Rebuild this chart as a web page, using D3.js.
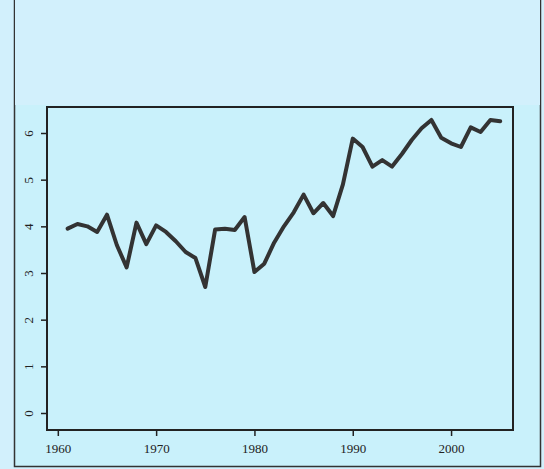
<!DOCTYPE html>
<html>
<head>
<meta charset="UTF-8">
<script src="https://cdn.jsdelivr.net/npm/d3@7"></script>
<style>
  body { margin: 0; background: #fff; }
  .axis text { font-family: "Liberation Serif", serif; font-size: 13px; fill: #222; }
</style>
</head>
<body>
<svg id="chart" width="544" height="469"></svg>
<script>
// values
const years = d3.range(1961, 2006);
const values = [3.95, 4.05, 4.0, 3.88, 4.25, 3.6, 3.12, 4.08, 3.62, 4.02,
  3.88, 3.68, 3.45, 3.32, 2.7, 3.93, 3.95, 3.92, 4.2, 3.02,
  3.2, 3.65, 4.0, 4.3, 4.68, 4.28, 4.5, 4.22, 4.9, 5.88,
  5.7, 5.28, 5.42, 5.28, 5.55, 5.85, 6.1, 6.28, 5.9, 5.78,
  5.7, 6.12, 6.02, 6.28, 6.25];
const xTicks = [1960, 1970, 1980, 1990, 2000];
const yTicks = [0, 1, 2, 3, 4, 5, 6];

const svg = d3.select("#chart");

// outer panel
svg.append("rect").attr("x", 0).attr("y", 0).attr("width", 544).attr("height", 469).attr("fill", "#d2f0fc");
svg.append("rect").attr("x", 14.5).attr("y", -2).attr("width", 526).attr("height", 468.5)
  .attr("fill", "#c9f1fb").attr("stroke", "#333").attr("stroke-width", 1.5);
svg.append("rect").attr("x", 15).attr("y", 0).attr("width", 525).attr("height", 105).attr("fill", "#d2f0fc");

const x = d3.scaleLinear().domain([1958.9, 2006.3]).range([47, 513]);
const y = d3.scaleLinear().domain([0, 6]).range([413, 133]);

svg.append("rect").attr("x", 47).attr("y", 107).attr("width", 466).attr("height", 323)
  .attr("fill", "#c9f1fb").attr("stroke", "#222").attr("stroke-width", 2);

svg.append("g").attr("class", "axis").attr("transform", "translate(0,430)")
  .call(d3.axisBottom(x).tickValues(xTicks).tickFormat(d3.format("d")).tickSize(6).tickSizeOuter(0))
  .call(g => g.select(".domain").remove())
  .call(g => g.selectAll("line").attr("stroke", "#222").attr("stroke-width", 1.5))
  .call(g => g.selectAll("text").attr("dy", "1.1em"));

const yAxis = svg.append("g").attr("class", "axis").attr("transform", "translate(47,0)")
  .call(d3.axisLeft(y).tickValues(yTicks).tickFormat(d3.format("d")).tickSize(6).tickSizeOuter(0))
  .call(g => g.select(".domain").remove())
  .call(g => g.selectAll("line").attr("stroke", "#222").attr("stroke-width", 1.5));
yAxis.selectAll("text")
  .attr("x", 0).attr("dy", 0)
  .attr("transform", "translate(-14,0) rotate(-90)")
  .attr("text-anchor", "middle");

const line = d3.line().x((d, i) => x(years[i])).y(d => y(d));
svg.append("path").datum(values).attr("d", line)
  .attr("fill", "none").attr("stroke", "#333").attr("stroke-width", 4)
  .attr("stroke-linejoin", "round").attr("stroke-linecap", "round");
</script>
</body>
</html>
